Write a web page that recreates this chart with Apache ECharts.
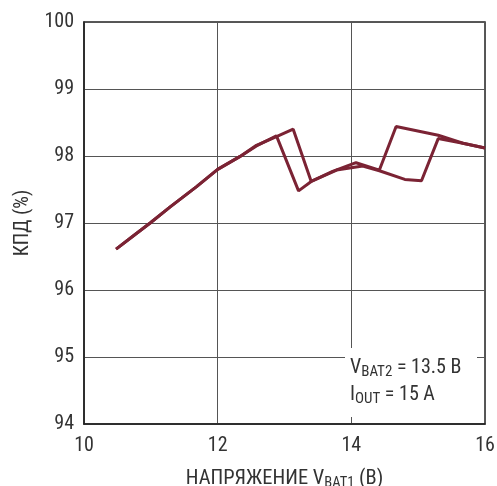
<!DOCTYPE html>
<html><head><meta charset="utf-8">
<script src="https://cdn.jsdelivr.net/npm/echarts@6/dist/echarts.min.js"></script>
<style>html,body{margin:0;padding:0;background:#fff}#c{width:497px;height:486px}</style>
</head><body><div id="c"></div>
<script>
const xTicks = [10, 12, 14, 16];
const yTicks = [94, 95, 96, 97, 98, 99, 100];
const seriesAX = [10.48, 10.74, 10.99, 11.29, 11.68, 12.0, 12.33, 12.58, 12.88, 13.21, 13.40, 13.72, 14.07, 14.42, 14.67, 15.30, 15.67, 16.0];
const seriesAY = [96.61, 96.81, 97.0, 97.24, 97.54, 97.80, 97.99, 98.15, 98.30, 97.48, 97.62, 97.77, 97.90, 97.79, 98.44, 98.31, 98.19, 98.12];
const seriesBX = [10.48, 10.74, 10.99, 11.29, 11.68, 12.0, 12.33, 12.58, 12.88, 13.13, 13.40, 13.78, 14.17, 14.42, 14.80, 15.05, 15.30, 15.67, 16.0];
const seriesBY = [96.61, 96.81, 97.0, 97.24, 97.54, 97.80, 97.99, 98.16, 98.29, 98.40, 97.62, 97.79, 97.85, 97.78, 97.65, 97.63, 98.26, 98.19, 98.12];

const FONT = '"Roboto Condensed","Liberation Sans Narrow",Arial,sans-serif';
const LINE = '#7b2334';
const TXT = '#333';
const chart = echarts.init(document.getElementById('c'), null, {renderer: 'canvas'});
const toPairs = (xs, ys) => xs.map((x, i) => [x, ys[i]]);
chart.setOption({
  animation: false,
  backgroundColor: '#fff',
  grid: {left: 84, right: 12, top: 22, bottom: 62, containLabel: false, outerBoundsMode: 'none', show: true, borderColor: '#222', borderWidth: 1.5, backgroundColor: 'transparent'},
  xAxis: {
    type: 'value', min: xTicks[0], max: xTicks[xTicks.length - 1], interval: 2,
    name: 'НАПРЯЖЕНИЕ V{sub|BAT1} (B)', nameLocation: 'middle', nameGap: 42,
    nameTextStyle: {fontFamily: FONT, fontSize: 20.5, color: TXT, rich: {sub: {fontFamily: FONT, fontSize: 14.5, color: TXT, verticalAlign: 'bottom', padding: [10, 0, 0, 0]}}},
    axisLine: {show: true, lineStyle: {color: '#222', width: 1.5}},
    axisTick: {show: false},
    axisLabel: {fontFamily: FONT, fontSize: 20, color: TXT, margin: 12},
    splitLine: {show: true, lineStyle: {color: '#555', width: 1}}
  },
  yAxis: {
    type: 'value', min: yTicks[0], max: yTicks[yTicks.length - 1], interval: 1,
    name: 'КПД (%)', nameLocation: 'middle', nameGap: 51, nameRotate: 90,
    nameTextStyle: {fontFamily: FONT, fontSize: 20, color: TXT},
    axisLine: {show: true, lineStyle: {color: '#222', width: 1.5}},
    axisTick: {show: false},
    axisLabel: {fontFamily: FONT, fontSize: 20, color: TXT, margin: 10},
    splitLine: {show: true, lineStyle: {color: '#555', width: 1}}
  },
  series: [
    {type: 'line', data: toPairs(seriesAX, seriesAY), showSymbol: false, lineStyle: {color: LINE, width: 3}, z: 3},
    {type: 'line', data: toPairs(seriesBX, seriesBY), showSymbol: false, lineStyle: {color: LINE, width: 3}, z: 3}
  ],
  graphic: [
    {type: 'rect', left: 345, top: 348, shape: {width: 132, height: 69}, style: {fill: '#fff'}, z: 10},
    {type: 'text', left: 350, top: 354, z: 11, style: {
      text: 'V{s|BAT2} = 13.5 B\nI{s|OUT} = 15 A',
      fontFamily: FONT, fontSize: 20, fill: TXT, lineHeight: 27,
      rich: {s: {fontFamily: FONT, fontSize: 15, fill: TXT, padding: [10, 0, 0, 0]}}
    }}
  ]
});
</script></body></html>
